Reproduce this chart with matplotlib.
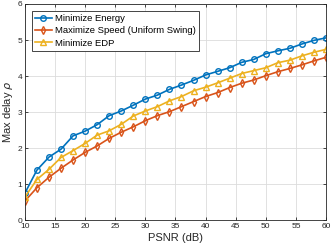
import numpy as np
import matplotlib
matplotlib.use('Agg')
import matplotlib.pyplot as plt

psnr = np.arange(10, 61, 2)

energy = [0.75, 1.39, 1.75, 1.97, 2.34, 2.47, 2.65, 2.90, 3.03, 3.19, 3.36, 3.47,
          3.63, 3.75, 3.88, 4.03, 4.13, 4.23, 4.38, 4.46, 4.62, 4.70, 4.77, 4.89,
          4.99, 5.06]
speed = [0.53, 0.90, 1.19, 1.44, 1.67, 1.88, 2.06, 2.27, 2.44, 2.59, 2.76, 2.90,
         3.01, 3.15, 3.29, 3.43, 3.54, 3.68, 3.80, 3.89, 4.01, 4.12, 4.21, 4.31,
         4.42, 4.52]
edp = [0.64, 1.13, 1.41, 1.74, 1.93, 2.13, 2.36, 2.48, 2.66, 2.89, 3.03, 3.15,
       3.31, 3.43, 3.59, 3.69, 3.81, 3.94, 4.07, 4.15, 4.23, 4.37, 4.44, 4.56,
       4.66, 4.74]

labels = ['Minimize Energy', 'Maximize Speed (Uniform Swing)', 'Minimize EDP']
colors = ['#0072BD', '#D95319', '#EDB120']
markers = ['o', 'd', '^']

plt.rcParams['font.family'] = ['Liberation Sans', 'DejaVu Sans']

fig = plt.figure(figsize=(3.32, 2.49), dpi=100)
ax = fig.add_axes([0.075, 0.116, 0.907, 0.868])

for y, lab, c, m in zip([energy, speed, edp], labels, colors, markers):
    ax.plot(psnr, y, color=c, marker=m, markersize=4, markerfacecolor='none',
            markeredgewidth=1.0, linewidth=1.2, label=lab)

ax.set_xlim(10, 60)
ax.set_ylim(0, 6)
ax.set_xticks(range(10, 61, 5))
ax.set_yticks(range(0, 7))
ax.grid(True, color='#dcdcdc', linewidth=0.6)
ax.set_axisbelow(True)
ax.tick_params(direction='in', length=2.5, width=0.6, labelsize=6, colors='#262626',
               top=True, right=True, pad=2)
for s in ax.spines.values():
    s.set_color('#262626')
    s.set_linewidth(0.6)

ax.set_xlabel('PSNR (dB)', fontsize=8, color='#262626', labelpad=2)
ax.set_ylabel(r'Max delay $\rho$', fontsize=8, color='#262626', labelpad=2)

leg = ax.legend(loc='upper left', fontsize=6.8, fancybox=False, framealpha=1,
                edgecolor='#262626', borderpad=0.35, labelspacing=0.35,
                handlelength=1.8, handletextpad=0.3, borderaxespad=0.7)
leg.get_frame().set_linewidth(0.6)

fig.savefig('out.png', dpi=100)
